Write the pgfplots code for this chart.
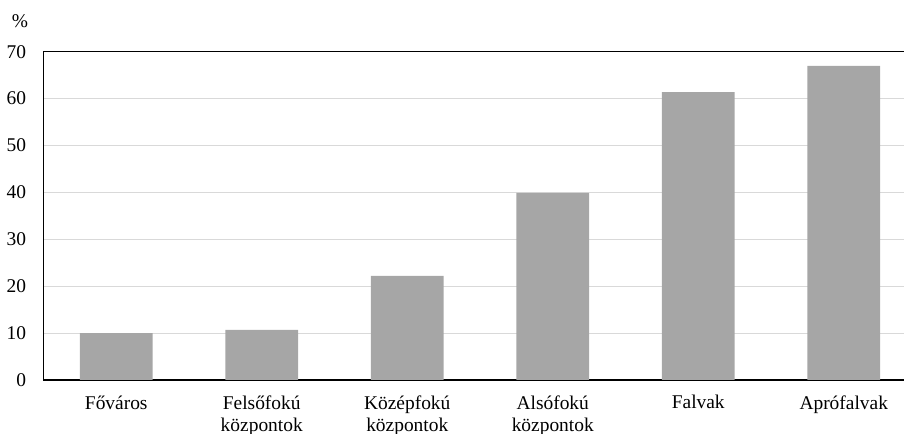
\documentclass[border=0pt]{standalone}
\usepackage{fontspec}
\setmainfont{Liberation Serif}
\usepackage{pgfplots}
\pgfplotsset{compat=1.18}
\definecolor{barGray}{RGB}{166,166,166}
\definecolor{gridGray}{RGB}{217,217,217}

\begin{document}
\begin{tikzpicture}[font=\fontsize{19.5}{22}\selectfont]
\begin{axis}[
  scale only axis,
  width=860.5bp, height=328.3bp,
  xmin=-0.5, xmax=5.414,
  ymin=0, ymax=70,
  axis x line=bottom, axis y line=left,
  x axis line style={-, line width=2.3bp, black},
  y axis line style={-, line width=0.8bp, black},
  ytick={0,10,...,60},
  extra y ticks={70},
  extra y tick style={grid style={black, line width=0.8bp}},
  ymajorgrids,
  grid style={gridGray, line width=0.8bp},
  major tick length=0pt,
  xtick=data,
  xticklabels={{Főváros},{Felsőfokú\\központok},{Középfokú\\központok},{Alsófokú\\központok},{Falvak},{Aprófalvak}},
  xticklabel style={align=center, anchor=north, yshift=-12bp},
  yticklabel style={xshift=-14bp},
  /pgf/number format/assume math mode=true,
  ybar, bar width=72.75bp,
  clip=false,
]
\addplot[draw=none, fill=barGray] coordinates {
  (0,10.0) (1,10.7) (2,22.2) (3,39.9) (4,61.4) (5,67.0)
};
\node[anchor=center] at (rel axis cs:0,1) [xshift=-23.5bp, yshift=30.7bp] {\%};
\coordinate (SW) at (rel axis cs:0,0);
\coordinate (NE) at (rel axis cs:1,1);
\end{axis}
\pgfresetboundingbox
\useasboundingbox ([shift={(-43.5bp,-54bp)}]SW) rectangle ([shift={(0bp,51.7bp)}]NE);
\end{tikzpicture}
\end{document}
